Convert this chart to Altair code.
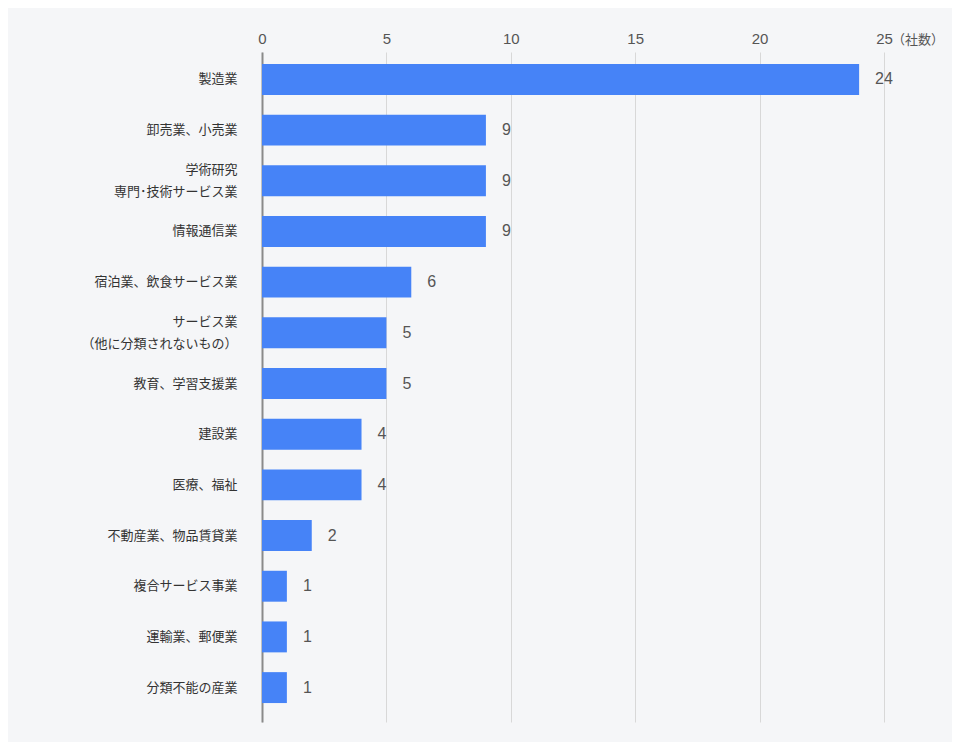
import altair as alt
import pandas as pd

categories = [
    "製造業",
    "卸売業、小売業",
    "学術研究\n専門･技術サービス業",
    "情報通信業",
    "宿泊業、飲食サービス業",
    "サービス業\n（他に分類されないもの）",
    "教育、学習支援業",
    "建設業",
    "医療、福祉",
    "不動産業、物品賃貸業",
    "複合サービス事業",
    "運輸業、郵便業",
    "分類不能の産業",
]
values = [24, 9, 9, 9, 6, 5, 5, 4, 4, 2, 1, 1, 1]
x_ticks = [0, 5, 10, 15, 20, 25]
unit_label = "（社数）"

FONT = "Liberation Sans, Noto Sans CJK JP"

df = pd.DataFrame({"cat": categories, "val": values})

y_enc = alt.Y(
    "cat:N",
    sort=categories,
    scale=alt.Scale(paddingInner=0.39, paddingOuter=0.305, align=0.387),
    axis=alt.Axis(
        title=None,
        labelExpr="split(datum.label, '\\n')",
        labelFontSize=13,
        labelColor="#333333",
        labelFont=FONT,
        labelLineHeight=22,
        labelPadding=25,
        labelOffset=alt.condition(
            "indexof(datum.label, '\\n') >= 0", alt.value(-11), alt.value(0)
        ),
        ticks=False,
        domain=True,
        domainColor="#8a8a8a",
        domainWidth=2,
        grid=False,
        labelLimit=300,
    ),
)

x_enc = alt.X(
    "val:Q",
    scale=alt.Scale(domain=[0, 25], nice=False),
    axis=alt.Axis(
        orient="top",
        title=None,
        values=x_ticks,
        labelFontSize=15,
        labelColor="#555555",
        labelFont=FONT,
        labelPadding=6,
        labelFlush=False,
        ticks=False,
        domain=False,
        grid=True,
        gridColor="#d8d8d8",
        gridWidth=1,
    ),
)

bars = alt.Chart(df).mark_bar(color="#4683f7").encode(x=x_enc, y=y_enc)

labels = alt.Chart(df).mark_text(
    align="left", baseline="middle", dx=16, fontSize=16, color="#555555", font=FONT
).encode(x="val:Q", y=alt.Y("cat:N", sort=categories), text="val:Q")

unit = alt.Chart(pd.DataFrame({"x": [25], "t": [unit_label]})).mark_text(
    align="left", baseline="middle", dx=8, fontSize=13, color="#555555", font=FONT
).encode(x="x:Q", y=alt.value(-12), text="t:N")

chart = (
    alt.layer(bars, labels, unit)
    .properties(
        width=622,
        height=670,
        background="#f5f6f8",
        padding={"left": 254, "top": 44, "right": 68, "bottom": 20},
        autosize=alt.AutoSizeParams(type="none"),
    )
    .configure_view(stroke=None)
)

chart.save("out.html", embed_options={"renderer": "svg", "actions": False})
